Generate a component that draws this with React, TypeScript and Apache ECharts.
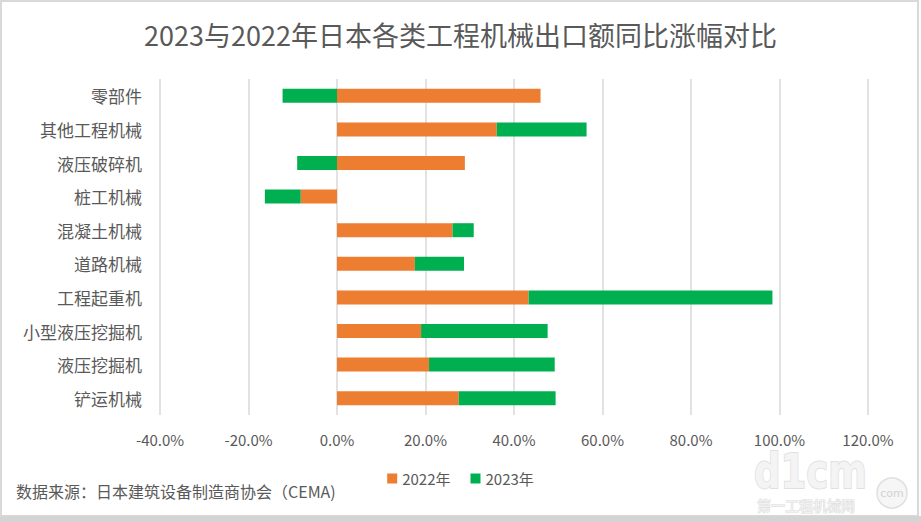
import React, { useEffect, useRef } from "react";
import * as echarts from "echarts";

const categories = ["零部件", "其他工程机械", "液压破碎机", "桩工机械", "混凝土机械", "道路机械", "工程起重机", "小型液压挖掘机", "液压挖掘机", "铲运机械"];
const values2022 = [46.0, 36.1, 28.9, -8.2, 26.1, 17.6, 43.3, 19.0, 20.8, 27.5];
const values2023 = [-12.3, 20.3, -9.0, -8.1, 4.8, 11.1, 55.1, 28.6, 28.4, 21.9];
const seriesNames = ["2022年", "2023年"];
const titleText = "2023与2022年日本各类工程机械出口额同比涨幅对比";
const sourceText = "数据来源：日本建筑设备制造商协会（CEMA)";

const FONT = "'Noto Sans CJK SC', 'Noto Sans', sans-serif";
const GRAY = "#595959";

export default function App() {
  const ref = useRef<HTMLDivElement>(null);
  useEffect(() => {
    if (!ref.current) return;
    const chart = echarts.init(ref.current, null, { renderer: "svg" });
    chart.setOption({
      animation: false,
      backgroundColor: "#ffffff",
      title: {
        text: titleText,
        left: "center",
        top: 16,
        textStyle: { fontFamily: FONT, fontSize: 27, fontWeight: "normal", color: GRAY },
      },
      legend: {
        data: seriesNames,
        left: "center",
        top: 466,
        icon: "rect",
        itemWidth: 10,
        itemHeight: 10,
        itemGap: 20,
        textStyle: { fontFamily: FONT, fontSize: 15, color: GRAY },
      },
      grid: { left: 160, right: 53, top: 79, bottom: 107, containLabel: false, outerBoundsMode: "none" },
      xAxis: {
        type: "value",
        min: -40,
        max: 120,
        interval: 20,
        axisLine: { show: false },
        axisTick: { show: false },
        splitLine: { show: true, lineStyle: { color: "#d9d9d9", width: 1.5 } },
        axisLabel: {
          fontFamily: FONT,
          fontSize: 15,
          color: GRAY,
          margin: 17,
          formatter: (v: number) => v.toFixed(1) + "%",
        },
      },
      yAxis: {
        type: "category",
        inverse: true,
        data: categories,
        axisLine: { show: false, onZero: false },
        axisTick: { show: false },
        axisLabel: { fontFamily: FONT, fontSize: 17, color: GRAY, margin: 18 },
      },
      series: [
        {
          name: seriesNames[0],
          type: "bar",
          stack: "total",
          barWidth: 14,
          itemStyle: { color: "#ED7D31" },
          data: values2022,
        },
        {
          name: seriesNames[1],
          type: "bar",
          stack: "total",
          barWidth: 14,
          itemStyle: { color: "#00B050" },
          data: values2023,
        },
      ],
      graphic: [
        {
          type: "rect",
          shape: { x: 1, y: 1, width: 917, height: 515 },
          style: { fill: "none", stroke: "#d9d9d9", lineWidth: 2 },
          silent: true,
        },
        {
          type: "rect",
          shape: { x: 0, y: 516, width: 921, height: 6 },
          style: { fill: "#d4d4d4" },
          silent: true,
        },
        {
          type: "text",
          left: 16,
          top: 483,
          style: { text: sourceText, fontFamily: FONT, fontSize: 16, fill: GRAY },
        },
        {
          type: "text",
          x: 754,
          y: 452,
          scaleY: 1.3,
          style: {
            text: "d1cm",
            fontFamily: "'DejaVu Sans', sans-serif",
            fontSize: 37,
            fontWeight: "bold",
            lineHeight: 30,
            fill: "#f4f4f4",
            stroke: "#e0e0e0",
            lineWidth: 1.5,
          },
          silent: true,
        },
        {
          type: "text",
          x: 757,
          y: 498,
          style: {
            text: "第一工程机械网",
            fontFamily: FONT,
            fontSize: 14,
            lineHeight: 14,
            fill: "#f2f2f2",
            stroke: "#dcdcdc",
            lineWidth: 1,
          },
          silent: true,
        },
        {
          type: "circle",
          shape: { cx: 892, cy: 493, r: 15 },
          style: { fill: "#f6f6f6", stroke: "#e0e0e0", lineWidth: 1.5 },
          silent: true,
        },
        {
          type: "text",
          x: 892,
          y: 493,
          style: {
            text: "com",
            fontFamily: "'DejaVu Sans', sans-serif",
            fontSize: 11,
            fill: "#d2d2d2",
            align: "center",
            verticalAlign: "middle",
          },
          silent: true,
        },
      ],
    });
    return () => chart.dispose();
  }, []);
  return <div ref={ref} style={{ position: "fixed", left: 0, top: 0, width: 921, height: 522 }} />;
}
